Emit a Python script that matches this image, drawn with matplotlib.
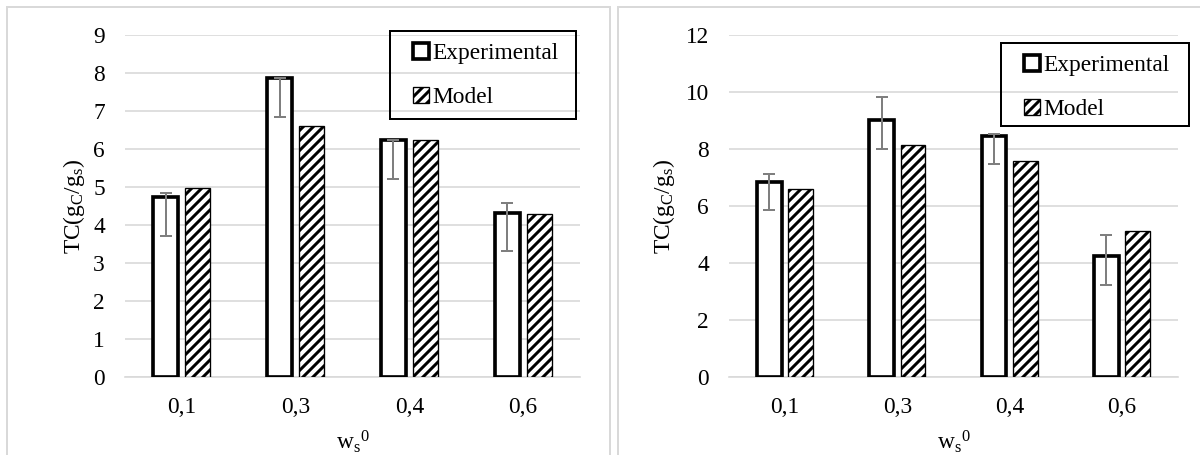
import matplotlib
matplotlib.use('Agg')
import matplotlib.pyplot as plt
from matplotlib.patches import Rectangle
import numpy as np

# data
categories = ['0,1', '0,3', '0,4', '0,6']

exp_left = [4.74, 7.86, 6.23, 4.32]
exp_left_minus = [1.02, 1.01, 1.02, 1.00]
exp_left_plus = [0.11, 0.02, 0.0, 0.26]
model_left = [4.97, 6.60, 6.25, 4.28]

exp_right = [6.85, 9.02, 8.45, 4.24]
exp_right_minus = [1.00, 1.02, 0.99, 1.02]
exp_right_plus = [0.29, 0.79, 0.07, 0.74]
model_right = [6.58, 8.15, 7.57, 5.12]

W, H, DPI = 1200, 455, 120
FS = 14

plt.rcParams['font.family'] = 'Liberation Serif'
plt.rcParams['mathtext.fontset'] = 'custom'
plt.rcParams['mathtext.rm'] = 'Liberation Serif'
plt.rcParams['mathtext.it'] = 'Liberation Serif'
plt.rcParams['hatch.linewidth'] = 1.8
plt.rcParams['hatch.color'] = 'black'

fig = plt.figure(figsize=(W / DPI, H / DPI), dpi=DPI)


def px_box(x0, y0, x1, y1):
    # pixel box (top-left origin) -> figure fraction
    return [x0 / W, 1 - y1 / H, (x1 - x0) / W, (y1 - y0) / H]


def frame(x0, y0, x1, y1, color, lw):
    fig.patches.append(Rectangle((x0 / W, 1 - y1 / H), (x1 - x0) / W,
                                 (y1 - y0) / H, transform=fig.transFigure,
                                 fill=False, edgecolor=color, linewidth=lw,
                                 zorder=5))


# light grey chart-area frames
frame(7, 7, 610, 500, '#d9d9d9', 1.2)
frame(618, 7, 1300, 500, '#d9d9d9', 1.2)


def draw_panel(box, exp, e_minus, e_plus, model, ymax, yticks,
               ylab_x, leg_box):
    ax = fig.add_axes(px_box(*box))
    x = np.arange(len(categories))
    w = 0.22
    ax.bar(x - 0.14, exp, w, facecolor='white', edgecolor='black',
           linewidth=2.2, zorder=3, label='Experimental')
    ax.bar(x + 0.14, model, w, facecolor='white', edgecolor='black',
           linewidth=0.8, hatch='////', zorder=3, label='Model')
    ax.errorbar(x - 0.14, exp, yerr=[e_minus, e_plus], fmt='none',
                ecolor='#7f7f7f', elinewidth=1.2, capsize=3.6,
                capthick=1.2, zorder=4)
    ax.set_xlim(-0.5, len(categories) - 0.5)
    ax.set_ylim(0, ymax)
    ax.set_yticks(yticks)
    ax.set_xticks(x)
    ax.set_xticklabels(categories)
    ax.yaxis.grid(True, color='#d9d9d9', linewidth=1.0, zorder=0)
    ax.set_axisbelow(True)
    for s in ['top', 'right', 'left']:
        ax.spines[s].set_visible(False)
    ax.spines['bottom'].set_color('#d9d9d9')
    ax.spines['bottom'].set_linewidth(1.0)
    ax.tick_params(length=0, labelsize=FS)
    ax.tick_params(axis='y', pad=12)
    ax.tick_params(axis='x', pad=12)
    ax.set_xlabel(r'w$_\mathrm{s}$$^\mathrm{0}$', fontsize=FS, labelpad=6)
    ax.set_ylabel(r'TC(g$_\mathrm{C}$/g$_\mathrm{s}$)', fontsize=FS)
    ax.yaxis.set_label_coords((ylab_x - box[0]) / (box[2] - box[0]), 0.5)
    # legend: black box drawn by hand, entries without frame
    frame(*leg_box, 'black', 1.2)
    ax.legend(loc='upper left',
              bbox_to_anchor=((leg_box[0] + 23) / W, 1 - (leg_box[1] + 12) / H),
              bbox_transform=fig.transFigure, fontsize=FS, frameon=False,
              handlelength=0.7, handleheight=0.7, handletextpad=0.15,
              labelspacing=0.95, borderpad=0, borderaxespad=0)
    return ax


draw_panel((125, 35, 580, 377), exp_left, exp_left_minus, exp_left_plus,
           model_left, 9, range(0, 10), 87, (390, 31, 576, 119))
draw_panel((729, 35, 1178, 377), exp_right, exp_right_minus, exp_right_plus,
           model_right, 12, range(0, 13, 2), 677, (1001, 43, 1189, 126))

fig.savefig('out.png', dpi=DPI)
